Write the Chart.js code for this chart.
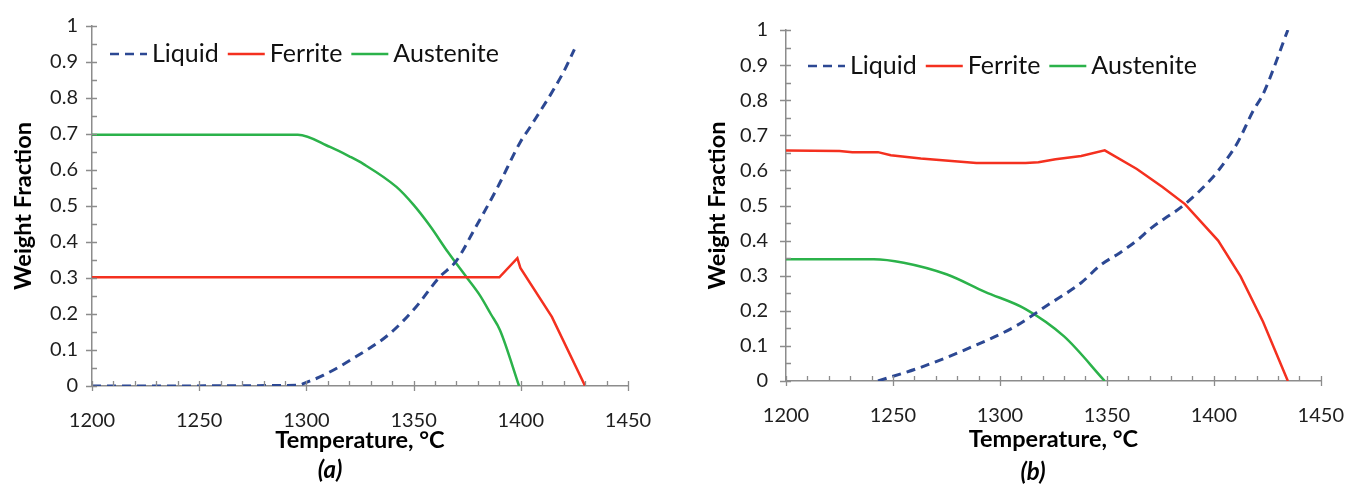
<!DOCTYPE html>
<html>
<head>
<meta charset="utf-8">
<title>Weight Fraction vs Temperature</title>
<script src="https://cdn.jsdelivr.net/npm/chart.js@4/dist/chart.umd.min.js"></script>
<style>
  html, body { margin: 0; padding: 0; background: #fff; }
  #wrap { position: relative; width: 1367px; height: 488px; overflow: hidden; }
  canvas { position: absolute; top: 0; }
  #chartA { left: 0; }
  #chartB { left: 683px; }
  .cap { position: absolute; font: italic bold 24px Lato, sans-serif; line-height: 28px;
         transform: translateX(-50%); color: #000; white-space: nowrap; }
</style>
</head>
<body>
<div id="wrap">
  <canvas id="chartA" width="683" height="488"></canvas>
  <canvas id="chartB" width="684" height="488"></canvas>
  <div class="cap" style="left:330px; top:455px;">(a)</div>
  <div class="cap" style="left:1033px; top:457px;">(b)</div>
</div>
<script>
// ---- axis ticks ----
const xTicks = [1200, 1250, 1300, 1350, 1400, 1450];
const xTickLabels = ['1200', '1250', '1300', '1350', '1400', '1450'];
const yTicks = [0, 0.1, 0.2, 0.3, 0.4, 0.5, 0.6, 0.7, 0.8, 0.9, 1];
const yTickLabels = ['0', '0.1', '0.2', '0.3', '0.4', '0.5', '0.6', '0.7', '0.8', '0.9', '1'];

const seriesNames = ['Liquid', 'Ferrite', 'Austenite'];

// ---- panel (a) ----
const tempLiquidA = [1200, 1296, 1300, 1308, 1323, 1339, 1351, 1362, 1370, 1378, 1389, 1400, 1404, 1420, 1425];
const liquidA     = [0, 0.002, 0.01, 0.03, 0.081, 0.146, 0.219, 0.302, 0.348, 0.431, 0.55, 0.68, 0.716, 0.873, 0.935];

const tempFerriteA = [1200, 1390, 1398.4, 1399.8, 1414.5, 1430];
const ferriteA     = [0.302, 0.302, 0.355, 0.328, 0.192, 0];

const tempAusteniteA = [1200, 1296, 1311, 1320, 1326.5, 1342, 1350, 1357.6, 1366, 1374.7, 1381, 1386, 1390.3, 1399.2];
const austeniteA     = [0.698, 0.698, 0.664, 0.638, 0.617, 0.553, 0.503, 0.445, 0.372, 0.302, 0.251, 0.2, 0.155, 0];

// ---- panel (b) ----
const tempLiquidB = [1243, 1263, 1286, 1307, 1322, 1338, 1347, 1356, 1364, 1371, 1386.5, 1399, 1405, 1411, 1418.5, 1423, 1434.6];
const liquidB     = [0, 0.039, 0.095, 0.155, 0.215, 0.28, 0.33, 0.365, 0.4, 0.437, 0.504, 0.577, 0.623, 0.678, 0.771, 0.817, 1.0];

const tempFerriteB = [1200, 1225, 1231, 1243, 1249, 1263, 1289, 1312, 1318, 1326, 1338, 1349, 1364, 1376, 1386.5, 1402, 1412.5, 1423, 1434.6];
const ferriteB     = [0.657, 0.655, 0.652, 0.652, 0.643, 0.634, 0.621, 0.621, 0.623, 0.632, 0.641, 0.657, 0.604, 0.553, 0.504, 0.40, 0.298, 0.169, 0];

const tempAusteniteB = [1200, 1241, 1255, 1275, 1293, 1312, 1330, 1349];
const austeniteB     = [0.347, 0.347, 0.337, 0.304, 0.254, 0.205, 0.127, 0];

const FONT = 'Lato, "Open Sans", sans-serif';
const AXIS_GRAY = '#8c8c8c';

const toPoints = (xs, ys) => xs.map((t, i) => ({ x: t, y: ys[i] }));

// Short axis tick marks: major ticks cross the axis, minor ticks point inward.
const axisTicks = {
  id: 'axisTicks',
  afterDraw(chart, args, o) {
    const { ctx, chartArea: a, scales: { x, y } } = chart;
    ctx.save();
    ctx.strokeStyle = o.color;
    ctx.lineWidth = o.width;
    ctx.beginPath();
    const nx = Math.round((x.max - x.min) / o.xMinor);
    for (let i = 0; i <= nx; i++) {
      const px = Math.round(x.getPixelForValue(x.min + i * o.xMinor)) + 0.5;
      const major = i % o.xEvery === 0;
      ctx.moveTo(px, a.bottom - o.inLen);
      ctx.lineTo(px, a.bottom + (major ? o.outLen : 0));
    }
    const ny = Math.round((y.max - y.min) / o.yMinor);
    for (let i = 0; i <= ny; i++) {
      const py = Math.round(y.getPixelForValue(y.min + i * o.yMinor)) + 0.5;
      const major = i % o.yEvery === 0;
      ctx.moveTo(a.left - (major ? o.outLen + 1 : 0), py);
      ctx.lineTo(a.left + o.inLen, py);
    }
    ctx.stroke();
    ctx.restore();
  }
};

// Legend laid out inside the plot area as line samples followed by names.
const lineLegend = {
  id: 'lineLegend',
  afterDraw(chart, args, o) {
    const { ctx, chartArea: a } = chart;
    ctx.save();
    ctx.font = o.font;
    ctx.textBaseline = 'middle';
    let x = a.left + o.dx;
    const y = a.top + o.dy;
    chart.data.datasets.forEach(ds => {
      ctx.strokeStyle = ds.borderColor;
      ctx.lineWidth = o.lineWidth;
      ctx.setLineDash(ds.borderDash || []);
      ctx.beginPath();
      ctx.moveTo(x, y);
      ctx.lineTo(x + o.lineLen, y);
      ctx.stroke();
      ctx.setLineDash([]);
      x += o.lineLen + o.gap;
      ctx.fillStyle = o.color;
      ctx.fillText(ds.label, x, y + o.textDy);
      x += ctx.measureText(ds.label).width + o.itemGap;
    });
    ctx.restore();
  }
};

function makeChart(id, data, L) {
  const datasets = [
    { label: seriesNames[0], data: data[0], borderColor: '#2c4893', borderWidth: 3, borderDash: [9, 6],
      cubicInterpolationMode: 'monotone' },
    { label: seriesNames[1], data: data[1], borderColor: '#f4301f', borderWidth: 2.5 },
    { label: seriesNames[2], data: data[2], borderColor: '#2bb24a', borderWidth: 2.5,
      cubicInterpolationMode: 'monotone' }
  ].map(d => Object.assign({ pointRadius: 0, tension: 0, fill: false, borderCapStyle: 'butt' }, d));

  return new Chart(document.getElementById(id), {
    type: 'line',
    data: { datasets },
    options: {
      responsive: false,
      animation: false,
      devicePixelRatio: 1,
      events: [],
      layout: { padding: { left: 0, top: L.top, right: L.right, bottom: 0 } },
      scales: {
        x: {
          type: 'linear', position: 'bottom', min: 1200, max: 1450,
          afterBuildTicks: s => { s.ticks = xTicks.map(v => ({ value: v })); },
          afterFit: s => { s.height = L.xHeight; },
          ticks: {
            callback: (v, i) => xTickLabels[i],
            autoSkip: false, maxRotation: 0, padding: L.xPad,
            color: '#1e1e1e', font: { family: FONT, size: 20 }
          },
          grid: { display: false, drawTicks: false },
          border: { display: true, color: AXIS_GRAY, width: 1.5 },
          title: {
            display: true, text: 'Temperature, °C', color: '#000',
            font: { family: FONT, size: 23.5, weight: 'bold' },
            padding: { top: 0, bottom: L.xTitlePad }
          }
        },
        y: {
          type: 'linear', position: 'left', min: 0, max: 1,
          afterBuildTicks: s => { s.ticks = yTicks.map(v => ({ value: v })); },
          afterFit: s => { s.width = L.yWidth; },
          ticks: {
            callback: (v, i) => yTickLabels[i],
            autoSkip: false, padding: L.yPad,
            color: '#1e1e1e', font: { family: FONT, size: 20 }
          },
          grid: { display: false, drawTicks: false },
          border: { display: true, color: AXIS_GRAY, width: 1.5 },
          title: {
            display: true, text: 'Weight Fraction', color: '#000',
            font: { family: FONT, size: 23.5, weight: 'bold' },
            padding: { top: L.yTitlePad, bottom: 0 }
          }
        }
      },
      plugins: {
        legend: { display: false },
        tooltip: { enabled: false },
        axisTicks: { color: AXIS_GRAY, width: 1.3, xMinor: 10, xEvery: 5, yMinor: 0.05, yEvery: 2, inLen: 5, outLen: 5 },
        lineLegend: { font: '25px ' + FONT, color: '#111', dx: L.legX, dy: L.legY, textDy: 0,
                      lineLen: 37, gap: 5, itemGap: 9, lineWidth: 2.5 }
      }
    },
    plugins: [axisTicks, lineLegend]
  });
}

makeChart('chartA', [
  toPoints(tempLiquidA, liquidA),
  toPoints(tempFerriteA, ferriteA),
  toPoints(tempAusteniteA, austeniteA)
], { top: 24, right: 55, xHeight: 102, yWidth: 92, xPad: 23, yPad: 14, xTitlePad: 33, yTitlePad: 9,
     legX: 18, legY: 28 });

makeChart('chartB', [
  toPoints(tempLiquidB, liquidB),
  toPoints(tempFerriteB, ferriteB),
  toPoints(tempAusteniteB, austeniteB)
], { top: 21, right: 35, xHeight: 107, yWidth: 103, xPad: 23, yPad: 18, xTitlePad: 34, yTitlePad: 20,
     legX: 22, legY: 36 });
</script>
</body>
</html>
